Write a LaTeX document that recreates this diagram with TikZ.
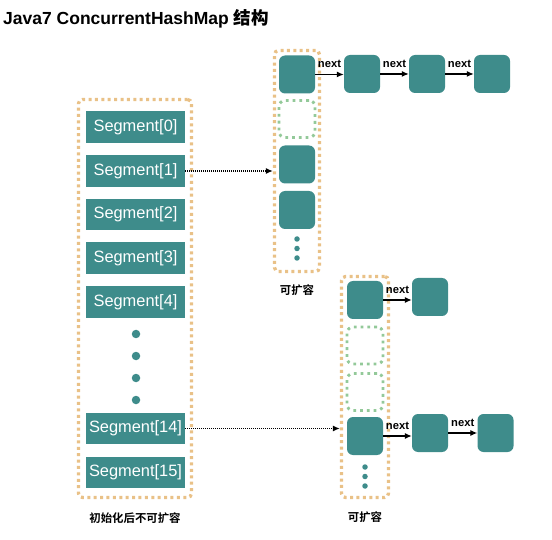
\documentclass[tikz,border=0pt]{standalone}
\usepackage{fontspec}
\setmainfont{Liberation Sans}
\newfontfamily\cjk{Noto Sans CJK SC Bold}
\usetikzlibrary{arrows.meta}
\definecolor{segteal}{HTML}{3E8C8B}
\definecolor{wrapgold}{HTML}{E9C187}
\definecolor{slotgreen}{HTML}{93C999}
\tikzset{
  segbox/.style={fill=segteal,text=white,minimum width=99pt,minimum height=31.5pt,inner sep=0pt,font=\fontsize{16.4}{18}\selectfont},
  entry/.style={fill=segteal,rounded corners=6pt,minimum width=36pt,minimum height=38pt,inner sep=0pt},
  freeslot/.style={draw=slotgreen,line width=2.8pt,dash pattern=on 2.8pt off 4pt,rounded corners=6pt,minimum width=36pt,minimum height=37pt,inner sep=0pt},
  wrapper/.style={draw=wrapgold,line width=3.3pt,dash pattern=on 3pt off 3.4pt,rounded corners=4pt,inner sep=0pt},
  bead/.style={circle,fill=segteal,inner sep=0pt,minimum size=#1},
  nextlink/.style={-{Latex[length=7pt,width=6pt]},line width=1.2pt},
  seglink/.style={-{Latex[length=7pt,width=6pt]},dash pattern=on 1pt off 1pt,line width=1.2pt},
  nextlabel/.style={font=\bfseries\fontsize{11.2}{12}\selectfont,inner sep=0pt,above=6pt},
  note/.style={font=\cjk\fontsize{11.4}{13}\selectfont}
}
\begin{document}
\begin{tikzpicture}[x=1pt,y=-1pt]
\useasboundingbox (0,0) rectangle (552,540);
\node[anchor=base west,inner sep=0pt,font=\bfseries\fontsize{17.5}{20}\selectfont] (title) at (3,25) {Java7 ConcurrentHashMap {\cjk 结构}};

\node[wrapper,minimum width=113pt,minimum height=398pt] (segs) at (135,298.5) {};
\foreach \i/\y in {0/127,1/171,2/214.5,3/258,4/302,14/428.5,15/472.5}
  \node[segbox] (seg\i) at (135.5,\y) {Segment[\i]};
\foreach \y [count=\k] in {334,356,378,400}
  \node[bead=8.5pt] (gap\k) at (136,\y) {};
\node[note] (fixed) at (135,518) {初始化后不可扩容};

\node[wrapper,minimum width=45pt,minimum height=221pt] (tabA) at (297,161) {};
\node[entry] (a0) at (297,74.5) {};
\node[freeslot] (a1) at (297,119) {};
\node[entry] (a2) at (297,164.5) {};
\node[entry] (a3) at (297,210) {};
\foreach \y [count=\k] in {239,248.5,258}
  \node[bead=5.5pt] (adot\k) at (297,\y) {};
\foreach \x [count=\k] in {362,427,492}
  \node[entry] (an\k) at (\x,74) {};
\draw[nextlink] (a0.east) -- node[nextlabel] {next} (a0.east -| an1.west);
\draw[nextlink] (an1) -- node[nextlabel] {next} (an2);
\draw[nextlink] (an2) -- node[nextlabel] {next} (an3);
\node[note] (growA) at (297,290) {可扩容};

\node[wrapper,minimum width=47pt,minimum height=221pt] (tabB) at (365,387) {};
\node[entry] (b0) at (365,300) {};
\node[freeslot] (b1) at (365,345.5) {};
\node[freeslot] (b2) at (365,392) {};
\node[entry] (b3) at (365,436) {};
\foreach \y [count=\k] in {467,476.5,486}
  \node[bead=5.5pt] (bdot\k) at (365,\y) {};
\node[entry] (bn1) at (430,297) {};
\node[entry] (bm1) at (430,433) {};
\node[entry] (bm2) at (495.5,433) {};
\draw[nextlink] (b0.east) -- node[nextlabel] {next} (b0.east -| bn1.west);
\draw[nextlink] (b3.east) -- node[nextlabel] {next} (b3.east -| bm1.west);
\draw[nextlink] (bm1) -- node[nextlabel] {next} (bm2);
\node[note] (growB) at (365,517) {可扩容};

\draw[seglink] (seg1.east) -- (seg1.east -| tabA.west);
\draw[seglink] (seg14.east) -- (seg14.east -| tabB.west);
\end{tikzpicture}
\end{document}
